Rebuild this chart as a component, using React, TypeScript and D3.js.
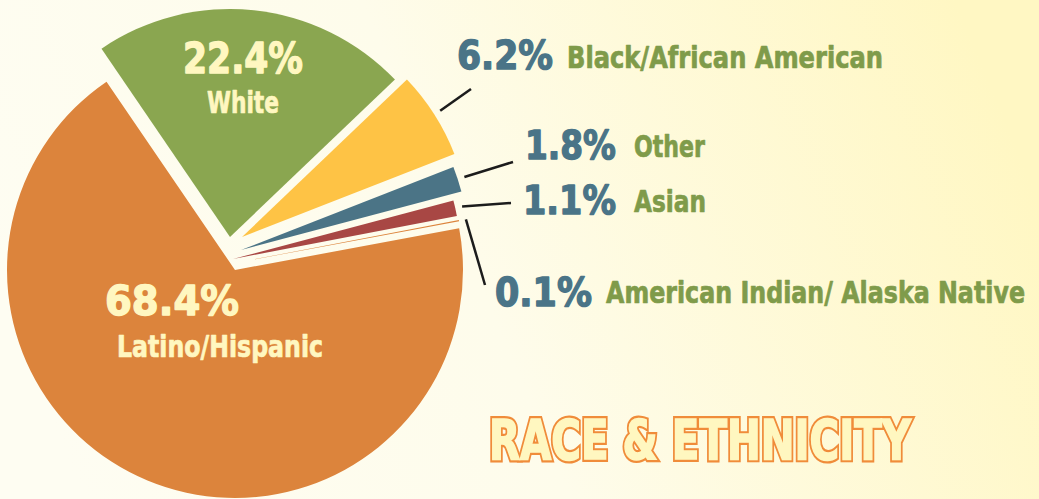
import React from 'react';
import * as d3 from 'd3';

const W = 1039;
const H = 499;

// data, in slice order going clockwise from the White slice
const groups = ['White', 'Black/African American', 'Other', 'Asian', 'American Indian/ Alaska Native', 'Latino/Hispanic'];
const shares = [22.4, 6.2, 1.8, 1.1, 0.1, 68.4];

// style
const sliceColors = ['#8AA650', '#FEC345', '#4B7486', '#A84744', '#DC843C', '#DC843C'];
const sliceNudge = [[-5, -33], [7, -33], [6, -20], [-2, -11], [0, -7], [0, 0]];
const CX = 235;
const CY = 270;
const R = 228;
const START_DEG = -34.3;

// labels drawn inside the pie: [pctX, pctBase, pctLen, pctSize, nameX, nameBase, nameLen]
const innerLabels = {
  'White': [183, 73, 120, 42, 207, 113, 72],
  'Latino/Hispanic': [105, 315, 134, 40, 117, 357, 206],
};
// labels drawn outside: [pctX, pctBase, pctLen, nameX, nameBase, nameLen, leaderEndX, leaderEndY]
const outerLabels = {
  'Black/African American': [457, 69, 96, 567, 68, 316, 471, 89],
  'Other': [525, 159, 91, 634, 157, 71, 513, 162],
  'Asian': [523, 214, 93, 634, 212, 72, 511, 203],
  'American Indian/ Alaska Native': [495, 306, 97, 606, 303, 419, 485, 285],
};

const PCT_FONT = "'DejaVu Sans', Verdana, sans-serif";
const NAME_FONT = "'Liberation Sans Narrow', 'DejaVu Sans Condensed', 'Liberation Sans', Arial, sans-serif";
const CREAM = '#FFF7C0';
const BLUE = '#4A7487';
const GREEN = '#7F9B4A';

const App = () => {
  const pie = d3.pie<number>()
    .sort(null)
    .value(d => d)
    .startAngle(START_DEG * Math.PI / 180)
    .endAngle(START_DEG * Math.PI / 180 + 2 * Math.PI);

  const arcs = pie(shares);

  const arcGen = d3.arc<d3.PieArcDatum<number>>()
    .innerRadius(0)
    .outerRadius(R);

  const fmt = (v: number) => `${v.toFixed(1)}%`;

  const pctText = (x, y, len, size, color, txt) => (
    <text x={x} y={y} fontFamily={PCT_FONT} fontWeight='bold' fontSize={size}
      fill={color} stroke={color} strokeWidth={1.4} strokeLinejoin='round'
      textLength={len} lengthAdjust='spacingAndGlyphs'>{txt}</text>
  );
  const nameText = (x, y, len, color, txt) => (
    <text x={x} y={y} fontFamily={NAME_FONT} fontWeight='bold' fontSize={31}
      fill={color} stroke={color} strokeWidth={0.7} strokeLinejoin='round'
      textLength={len} lengthAdjust='spacingAndGlyphs'>{txt}</text>
  );

  return (
    <svg width={W} height={H} style={{ position: 'fixed', left: 0, top: 0 }}>
      <defs>
        <linearGradient id='bg' x1='0' y1='0.6' x2='1' y2='0.4'>
          <stop offset='0%' stopColor='#FEFDF2' />
          <stop offset='45%' stopColor='#FEFCEB' />
          <stop offset='100%' stopColor='#FFF7C3' />
        </linearGradient>
      </defs>
      <rect width={W} height={H} fill='url(#bg)' />

      {arcs.map((a, i) => {
        const [dx, dy] = sliceNudge[i];
        return (
          <path key={groups[i]}
            transform={`translate(${CX + dx},${CY + dy})`}
            d={arcGen(a) || ''}
            fill={sliceColors[i]} />
        );
      })}

      {arcs.map((a, i) => {
        const name = groups[i];
        const [dx, dy] = sliceNudge[i];
        const inner = innerLabels[name];
        if (inner) {
          const [px, pb, pl, ps, nx, nb, nl] = inner;
          return (
            <g key={name}>
              {pctText(px, pb, pl, ps, CREAM, fmt(shares[i]))}
              {nameText(nx, nb, nl, CREAM, name)}
            </g>
          );
        }
        const [px, pb, pl, nx, nb, nl, ex, ey] = outerLabels[name];
        const mid = (a.startAngle + a.endAngle) / 2;
        const sx = CX + dx + (R + 7) * Math.sin(mid);
        const sy = CY + dy - (R + 7) * Math.cos(mid);
        return (
          <g key={name}>
            <path d={d3.line()([[sx, sy], [ex, ey]]) || ''} stroke='#1C1C1C' strokeWidth={2.5} fill='none' />
            {pctText(px, pb, pl, 39, BLUE, fmt(shares[i]))}
            {nameText(nx, nb, nl, GREEN, name)}
          </g>
        );
      })}

      <g fontFamily="'DejaVu Sans Condensed', 'DejaVu Sans', sans-serif" fontWeight='bold' fontSize={56}>
        <text x={489} y={459} fill='#F08C3A' stroke='#F08C3A' strokeWidth={6} strokeLinejoin='miter'
          textLength={422} lengthAdjust='spacingAndGlyphs'>RACE &amp; ETHNICITY</text>
        <text x={489} y={459} fill={CREAM} stroke={CREAM} strokeWidth={1.6} strokeLinejoin='miter'
          textLength={422} lengthAdjust='spacingAndGlyphs'>RACE &amp; ETHNICITY</text>
      </g>
    </svg>
  );
};

export default App;
